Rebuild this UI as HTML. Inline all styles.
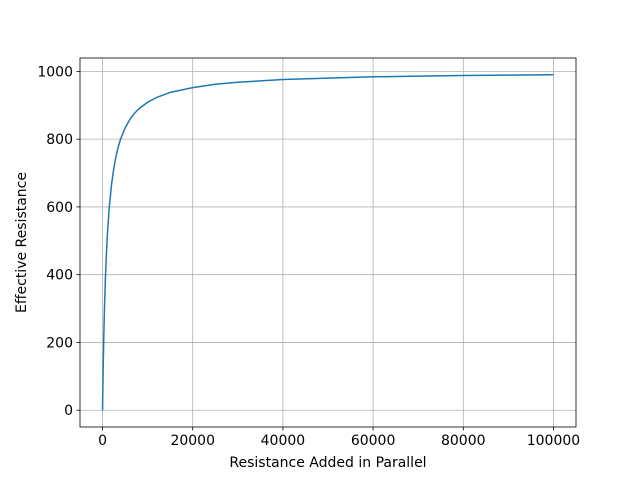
<!DOCTYPE html>
<html><head><meta charset="utf-8">
<style>
html,body{margin:0;padding:0;background:#fff;}
svg{display:block;font-family:"DejaVu Sans","Liberation Sans",sans-serif;}
</style></head>
<body>
<svg id="chart" width="640" height="480" viewBox="0 0 640 480" xmlns="http://www.w3.org/2000/svg">
<rect x="0" y="0" width="640" height="480" fill="#fff"/>
<g id="grid"></g>
<g id="series"></g>
<rect x="80" y="58" width="496" height="369" fill="none" stroke="#000" stroke-width="0.8"/>
<g id="ticks"></g>
<text x="328" y="467" font-size="14" text-anchor="middle">Resistance Added in Parallel</text>
<text x="0" y="0" font-size="14" text-anchor="middle" transform="translate(26,242.5) rotate(-90)">Effective Resistance</text>
</svg>
<script>
const xValues = [0, 50, 100, 150, 200, 250, 300, 400, 500, 600, 700, 800, 1000, 1200, 1500, 2000, 2500, 3000, 3500, 4000, 5000, 6000, 7000, 8000, 10000, 12000, 15000, 20000, 25000, 30000, 35000, 40000, 50000, 60000, 70000, 80000, 90000, 100000];
const yValues = [0, 48, 91, 130, 167, 200, 231, 286, 333, 375, 412, 444, 500, 545, 600, 667, 714, 750, 778, 800, 833, 857, 875, 889, 909, 923, 938, 952, 962, 968, 972, 976, 980, 984, 986, 988, 989, 990];
const xTicks = [0, 20000, 40000, 60000, 80000, 100000];
const yTicks = [0, 200, 400, 600, 800, 1000];

const L=80,R=576,T=58,B=427;
const xMin=-5000,xMax=105000,yMin=-49.5,yMax=1039.5;
function sx(v){return L+(v-xMin)/(xMax-xMin)*(R-L);}
function sy(v){return B-(v-yMin)/(yMax-yMin)*(B-T);}
const NS='http://www.w3.org/2000/svg';
const grid=document.getElementById('grid'),ticks=document.getElementById('ticks'),series=document.getElementById('series');
function mk(tag,attrs,parent){const e=document.createElementNS(NS,tag);for(const k in attrs)e.setAttribute(k,attrs[k]);parent.appendChild(e);return e;}
xTicks.forEach(v=>{
  const x=sx(v);
  const g=mk('line',{x1:x,x2:x,y1:T,y2:B,stroke:'#b0b0b0','stroke-width':0.8},grid);
  
  
  const t=mk('line',{x1:x,x2:x,y1:B,y2:B+3.5,stroke:'#000','stroke-width':0.8},ticks);
  
  
  const l=mk('text',{x:x,y:B+18,'font-size':14,'text-anchor':'middle'},ticks);
  l.textContent=String(v);
  
  
});
yTicks.forEach(v=>{
  const y=sy(v);
  const g=mk('line',{x1:L,x2:R,y1:y,y2:y,stroke:'#b0b0b0','stroke-width':0.8},grid);
  
  
  const t=mk('line',{x1:L-3.5,x2:L,y1:y,y2:y,stroke:'#000','stroke-width':0.8},ticks);
  
  
  const l=mk('text',{x:L-7,y:y+5,'font-size':14,'text-anchor':'end'},ticks);
  l.textContent=String(v);
  
  
});
const pts=xValues.map((x,i)=>sx(x).toFixed(2)+','+sy(yValues[i]).toFixed(2)).join(' ');
const line=mk('polyline',{points:pts,fill:'none',stroke:'#1f77b4','stroke-width':1.5,'stroke-linejoin':'round'},series);


</script>
</body></html>
